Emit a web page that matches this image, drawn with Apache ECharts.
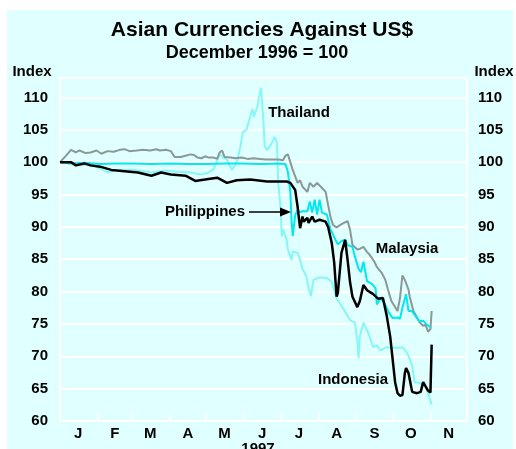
<!DOCTYPE html>
<html>
<head>
<meta charset="utf-8" />
<script src="https://cdn.jsdelivr.net/npm/echarts@6/dist/echarts.min.js"></script>
<style>
  body { margin: 0; background: #ffffff; }
  #main { position: absolute; left: 7px; top: 10px; width: 506px; height: 439px; }
</style>
</head>
<body>
<div id="main"></div>
<script type="text/javascript">
// day of year 1997 (0 = 1 Jan), index value (Dec 1996 = 100)
var monthLetters = ['J', 'F', 'M', 'A', 'M', 'J', 'J', 'A', 'S', 'O', 'N'];
var monthStarts = [0, 31, 59, 90, 120, 151, 181, 212, 243, 273, 304, 334];
var monthMids = [15, 45, 74, 105, 135, 166, 196, 227, 258, 288, 319];

var thailand = [
  [0, 100], [9, 99.9], [19, 99.6], [25, 99.6], [33, 99.0], [37, 98.7], [39, 98.4], [45, 98.8],
  [53, 98.8], [62, 98.8], [75, 98.4], [86, 98.7], [96, 98.5], [107, 98.4], [115, 98.1], [121, 98.3],
  [126, 98.9], [131, 101.2], [134, 100.7], [137, 100.4], [141, 98.8], [145, 99.8], [148, 102.4],
  [150, 104.6], [153, 105.0], [156, 107.0], [158, 108.2], [159, 107.0], [162, 108.6], [163, 109.7],
  [165, 111.5], [167, 106.1], [168, 102.4], [170, 101.9], [172, 102.4], [174, 103.0], [176, 103.9],
  [178, 103.0], [179, 97.0], [181, 93.0], [182, 88.5], [183, 89.6], [186, 88.0], [187, 86.5],
  [190, 84.9], [191, 86.2], [195, 86.0], [197, 84.9], [199, 83.5], [202, 82.5], [204, 80.5],
  [206, 79.3], [208, 81.8], [213, 82.2], [219, 82.1], [223, 81.5], [227, 78.9], [229, 78.4],
  [233, 77.2], [238, 75.6], [242, 75.2], [244, 72.5], [245, 69.7], [246, 73.0], [249, 75.2],
  [253, 73.6], [257, 71.4], [260, 71.7], [263, 70.9], [268, 71.4], [273, 71.3], [279, 71.3],
  [281, 71.4], [285, 70.5], [289, 68.6], [291, 66.0], [295, 65.9], [300, 65.3], [302, 64.3], [305, 62.5]
];

var malaysia = [
  [0, 100], [5, 101], [9, 101.9], [13, 101.5], [16, 101.8], [21, 101.4], [25, 101.5], [30, 101.8],
  [34, 101.3], [39, 101.7], [44, 101.6], [49, 101.9], [53, 102.0], [57, 101.7], [63, 101.8], [68, 101.9],
  [74, 101.8], [79, 102.0], [82, 101.8], [87, 101.9], [91, 101.7], [94, 100.8], [99, 100.8], [103, 101.0],
  [107, 101.2], [110, 101.1], [113, 100.7], [116, 100.6], [119, 100.9], [122, 100.7], [126, 100.7],
  [129, 100.5], [131, 101.5], [133, 101.8], [135, 100.8], [140, 100.7], [144, 100.6], [149, 100.7],
  [154, 100.5], [159, 100.6], [164, 100.5], [169, 100.4], [174, 100.4], [179, 100.4], [183, 100.3],
  [185, 101.0], [187, 101.2], [191, 98.8], [195, 96.8], [197, 97.2], [199, 96.2], [203, 95.4],
  [205, 96.8], [208, 96.2], [211, 96.8], [215, 96.0], [218, 95.4], [220, 93.4], [222, 91.5],
  [224, 90.3], [227, 89.9], [230, 90.3], [233, 90.6], [236, 90.9], [238, 89.6], [240, 87.2],
  [244, 86.5], [246, 86.6], [249, 86.9], [252, 86.1], [254, 85.7], [258, 84.6], [260, 83.8],
  [264, 82.9], [267, 81.8], [269, 80.4], [272, 78.5], [277, 77.0], [279, 79.0], [281, 82.5],
  [283, 81.8], [286, 80.3], [287, 79.2], [290, 77.0], [293, 76.0], [295, 75.3], [298, 74.7],
  [300, 74.9], [302, 73.8], [304, 74.2], [305, 77.0]
];

var philippines = [
  [0, 100], [8, 99.8], [20, 99.9], [33, 99.7], [45, 99.8], [60, 99.8], [75, 99.7], [90, 99.8],
  [105, 99.7], [120, 99.7], [135, 99.8], [150, 99.8], [165, 99.7], [180, 99.8], [185, 99.7],
  [187, 98.5], [189, 95.5], [190, 91.0], [191, 88.6], [193, 91.8], [195, 92.6], [197, 92.3],
  [199, 92.4], [203, 92.4], [205, 93.9], [207, 92.2], [209, 94.2], [211, 91.9], [213, 94.2],
  [215, 92.2], [219, 91.9], [222, 89.6], [226, 88.0], [228, 87.3], [231, 87.8], [234, 88.0],
  [236, 87.2], [240, 86.9], [242, 85.4], [245, 83.5], [247, 83.0], [249, 84.6], [252, 81.6],
  [256, 81.2], [259, 80.5], [260, 78.0], [263, 79.0], [266, 78.3], [270, 76.7], [273, 75.9],
  [277, 76.0], [279, 75.8], [281, 77.5], [284, 79.6], [286, 77.0], [289, 77.0], [291, 76.4],
  [295, 75.4], [298, 75.5], [301, 74.9], [304, 74.5]
];

var indonesia = [
  [0, 100], [9, 100], [13, 99.5], [20, 99.8], [25, 99.5], [33, 99.3], [42, 98.8], [53, 98.6],
  [64, 98.4], [75, 97.9], [83, 98.4], [91, 98.1], [103, 97.9], [111, 97.1], [119, 97.3], [129, 97.6],
  [137, 96.8], [145, 97.2], [156, 97.3], [170, 97.0], [186, 97.0], [189, 96.8], [193, 95.7],
  [195, 93.1], [197, 89.8], [199, 91.6], [200, 90.8], [203, 91.4], [204, 90.6], [207, 91.6],
  [209, 90.8], [213, 91.1], [218, 90.8], [220, 90.0], [223, 87.5], [225, 84.5], [227, 79.2],
  [228, 79.8], [231, 86.0], [234, 88.0], [236, 84.9], [238, 81.5], [240, 79.2], [244, 77.6],
  [246, 78.5], [249, 81.0], [252, 80.2], [257, 79.6], [261, 78.9], [265, 79.0], [268, 76.4],
  [271, 73.0], [273, 69.5], [275, 66.0], [277, 64.3], [279, 63.9], [281, 64.0], [283, 67.4],
  [284, 68.2], [286, 67.4], [289, 64.5], [293, 64.3], [296, 64.5], [298, 66.0], [299, 65.8],
  [302, 64.7], [304, 64.4], [305, 71.8]
];

var font = "'Liberation Sans', Arial, sans-serif";
var myChart = echarts.init(document.getElementById('main'));

function yAxisDef(pos, margin) {
  return {
    type: 'value',
    position: pos,
    min: 60,
    max: 113,
    interval: 5,
    axisLine: { show: true, lineStyle: { color: '#ffffff', width: 2 } },
    axisTick: { show: false },
    splitLine: { show: pos === 'left', lineStyle: { color: '#ffffff', width: 2 } },
    axisLabel: {
      margin: margin,
      color: '#000',
      fontWeight: 'bold',
      fontSize: 15,
      fontFamily: font,
      formatter: function (v) { return v % 5 === 0 ? v : ''; }
    }
  };
}

function label(text, x, y, align) {
  return {
    type: 'text', x: x, y: y, z: 10,
    style: {
      text: text, fill: '#000', font: 'bold 15px ' + font,
      textAlign: align || 'center', textVerticalAlign: 'middle'
    }
  };
}

option = {
  backgroundColor: '#e0ffff',
  animation: false,
  grid: { left: 53, right: 46, top: 68, bottom: 28, show: true, borderColor: '#ffffff', borderWidth: 2 },
  xAxis: {
    type: 'value',
    min: 0,
    max: 334,
    splitLine: { show: false },
    axisLine: { lineStyle: { color: '#ffffff', width: 2 } },
    axisTick: { show: true, inside: true, length: 8, customValues: monthStarts, lineStyle: { color: '#ffffff', width: 2 } },
    axisLabel: {
      customValues: monthMids,
      margin: 5,
      color: '#000',
      fontWeight: 'bold',
      fontSize: 15,
      fontFamily: font,
      formatter: function (v) { return monthLetters[monthMids.indexOf(v)]; }
    }
  },
  yAxis: [yAxisDef('left', 12), yAxisDef('right', 11)],
  graphic: [
    { type: 'text', x: 255, y: 20, z: 10, style: { text: 'Asian Currencies Against US$', fill: '#000', font: 'bold 21px ' + font, textAlign: 'center', textVerticalAlign: 'middle' } },
    { type: 'text', x: 250, y: 43, z: 10, style: { text: 'December 1996 = 100', fill: '#000', font: 'bold 18px ' + font, textAlign: 'center', textVerticalAlign: 'middle' } },
    label('Index', 25, 62),
    label('Index', 487, 62),
    { type: 'text', x: 251, y: 431, z: 10, style: { text: '1997', fill: '#000', font: 'bold 15px ' + font, textAlign: 'center', textVerticalAlign: 'top' } },
    label('Thailand', 292, 103),
    label('Malaysia', 400, 239),
    label('Philippines', 238, 202, 'right'),
    label('Indonesia', 346, 370),
    { type: 'line', z: 10, shape: { x1: 242, y1: 202, x2: 276, y2: 202 }, style: { stroke: '#000', lineWidth: 1.5 } },
    { type: 'polygon', z: 10, shape: { points: [[284, 202], [273, 197.5], [273, 206.5]] }, style: { fill: '#000' } }
  ],
  series: [
    { name: 'Thailand', type: 'line', data: thailand, showSymbol: false, lineStyle: { color: '#85f7f7', width: 2 }, z: 2 },
    { name: 'Malaysia', type: 'line', data: malaysia, showSymbol: false, lineStyle: { color: '#8a9898', width: 2 }, z: 3 },
    { name: 'Philippines', type: 'line', data: philippines, showSymbol: false, lineStyle: { color: '#00e8f0', width: 2 }, z: 4 },
    { name: 'Indonesia', type: 'line', data: indonesia, showSymbol: false, lineStyle: { color: '#000000', width: 2.5 }, z: 5 }
  ]
};

myChart.setOption(option);
</script>
</body>
</html>
